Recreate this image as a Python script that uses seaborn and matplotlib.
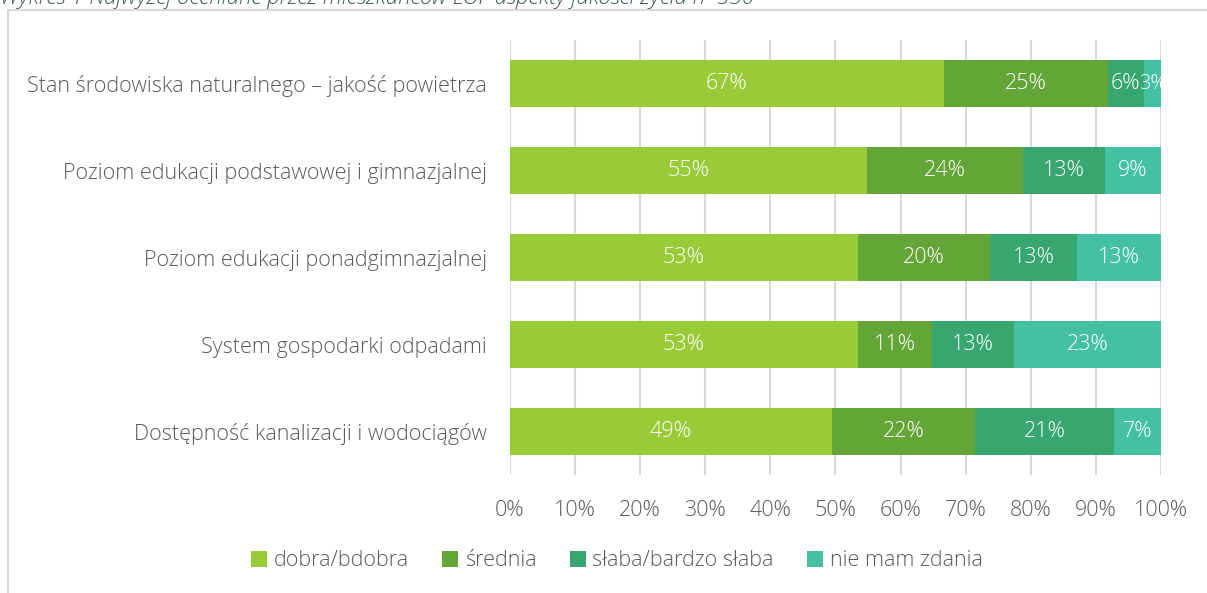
import numpy as np
import pandas as pd
import matplotlib
matplotlib.use('Agg')
import matplotlib.pyplot as plt
from matplotlib.patches import Patch, Rectangle
import seaborn as sns

# data (percent of respondents)
categories = [
    'Stan środowiska naturalnego – jakość powietrza',
    'Poziom edukacji podstawowej i gimnazjalnej',
    'Poziom edukacji ponadgimnazjalnej',
    'System gospodarki odpadami',
    'Dostępność kanalizacji i wodociągów',
]
series_names = ['dobra/bdobra', 'średnia', 'słaba/bardzo słaba', 'nie mam zdania']
dobra = [66.6, 54.8, 53.4, 53.4, 49.4]
srednia = [25.2, 24.0, 20.3, 11.4, 22.0]
slaba = [5.6, 12.6, 13.4, 12.6, 21.3]
brak = [2.6, 8.6, 12.9, 22.6, 7.2]
x_ticks = [0, 10, 20, 30, 40, 50, 60, 70, 80, 90, 100]

colors = ['#99CB38', '#63A537', '#37A76F', '#44C1A3']
title = 'Wykres 1 Najwyżej oceniane przez mieszkańców LOF aspekty jakości życia n=350'

sns.set_theme(style='white')
plt.rcParams['font.family'] = ['Open Sans', 'DejaVu Sans']
plt.rcParams['font.weight'] = 'light'
fs = 15.5

fig = plt.figure(figsize=(12.07, 5.93), dpi=100)
ax = fig.add_axes([0.4225, 0.199, 0.5394, 0.7335])

vals = np.array([dobra, srednia, slaba, brak])
cum = vals.cumsum(axis=0)
cum = cum / cum[-1] * 100  # 100% stacked

# overlay cumulative bars, widest first
for i in range(3, -1, -1):
    df = pd.DataFrame({'cat': categories, 'val': cum[i]})
    sns.barplot(data=df, x='val', y='cat', orient='h', color=colors[i],
                width=0.54, saturation=1, linewidth=0, ax=ax)

# value labels
for i in range(4):
    left = cum[i] - vals[i] / vals.sum(axis=0) * 100
    for j in range(len(categories)):
        w = cum[i][j] - left[j]
        ax.text(left[j] + w / 2, j, f'{vals[i][j]:.0f}%', ha='center', va='center',
                color='white', fontsize=fs if w > 5 else 14.5)

ax.set_xlim(0, 100)
ax.set_xticks(x_ticks)
ax.set_xticklabels([f'{t}%' for t in x_ticks])
ax.set_xlabel('')
ax.set_ylabel('')
ax.grid(axis='x', color='#d9d9d9', linewidth=1.5)
ax.set_axisbelow(True)
for s in ax.spines.values():
    s.set_visible(False)
ax.tick_params(axis='x', length=0, pad=18, labelsize=fs, labelcolor='#595959')
ax.tick_params(axis='y', length=0, pad=16.5, labelsize=fs, labelcolor='#595959')

handles = [Patch(facecolor=c, edgecolor='none') for c in colors]
fig.legend(handles, series_names, loc='center', bbox_to_anchor=(0.511, 0.054),
           ncol=4, frameon=False, fontsize=fs, handlelength=0.75, handleheight=0.75,
           handletextpad=0.3, columnspacing=1.55, labelcolor='#595959')

# outer frame of the chart area
fig.patches.append(Rectangle((8 / 1207, -0.05), 1.1, 1 - 10 / 593 + 0.05,
                             transform=fig.transFigure, fill=False,
                             edgecolor='#d9d9d9', linewidth=1.5))
fig.text(0.0, 1.003, title, ha='left', va='center', fontsize=16, style='italic',
         color='#3F5A4C')

fig.savefig('out.png', dpi=100)
